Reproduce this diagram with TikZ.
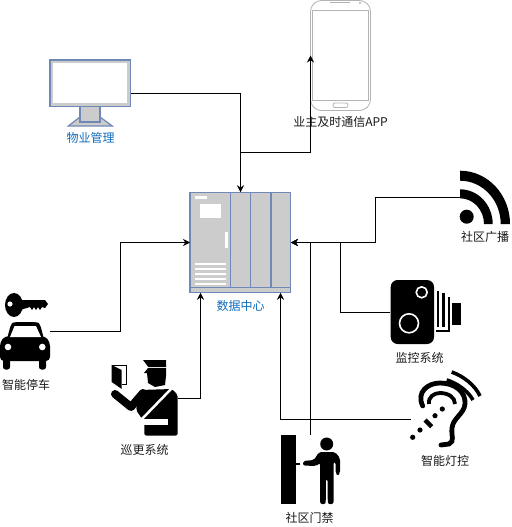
\documentclass[tikz,border=0pt]{standalone}
\usepackage{fontspec}
\usepackage{xcolor}
\usetikzlibrary{arrows.meta,positioning,calc}
\setmainfont{Noto Sans CJK SC}
\definecolor{Frame}{HTML}{6F88B5}
\definecolor{Panel}{HTML}{CCCCCC}
\definecolor{Caption}{HTML}{0F6CBD}
\definecolor{Shell}{HTML}{B3B3B3}
\begin{document}
\begin{tikzpicture}[
  x=1pt,y=-1pt,
  icon/.style={inner sep=0pt,outer sep=0pt,minimum width=#1},
  iconh/.style={minimum height=#1},
  tag/.style={inner sep=0pt,minimum height=14pt,align=center,font=\fontsize{12}{14}\selectfont,text=black!90},
  tagblue/.style={tag,text=Caption},
  arrow/.style={-{Stealth[length=7pt,width=7pt]},line width=0.8pt,draw=black},
  frame/.style={draw=Frame,line width=1.2pt,fill=Panel},
  stripe/.style={fill=white}
]
\useasboundingbox (0,0) rectangle (511,527);
\node[icon=81pt,iconh=66pt] (mgmt) at (90.5,93) {};
\node[icon=60pt,iconh=111pt] (app) at (340.5,55.5) {};
\node[icon=101pt,iconh=100.5pt] (hub) at (240.5,242.5) {};
\node[icon=50pt,iconh=78pt] (parking) at (25,331) {};
\node[icon=67pt,iconh=75pt] (patrol) at (144.5,398.5) {};
\node[icon=59pt,iconh=69pt] (gate) at (310.5,469.5) {};
\node[icon=70pt,iconh=60pt] (lamp) at (446,419) {};
\node[icon=71pt,iconh=64pt] (camera) at (425.5,312) {};
\node[icon=50pt,iconh=54pt] (radio) at (485,197) {};
\node[tagblue,below=5pt of mgmt] (mgmtText) {物业管理};
\node[tag,below=4pt of app] (appText) {业主及时通信APP};
\node[tagblue,below=6.3pt of hub] (hubText) {数据中心};
\node[tag,below=8pt of parking,xshift=1pt] (parkingText) {智能停车};
\node[tag,below=7pt of patrol] (patrolText) {巡更系统};
\node[tag,below=7pt of gate,xshift=-1pt] (gateText) {社区门禁};
\node[tag,below=5pt of lamp,xshift=-1pt] (lampText) {智能灯控};
\node[tag,below=7pt of camera,xshift=-6pt] (cameraText) {监控系统};
\node[tag,below=6pt of radio] (radioText) {社区广播};
\filldraw[frame] (68.3,126) -- (80,117) -- (100,117) -- (112.3,126) -- cycle;
\filldraw[frame] (80,106) rectangle (100,122);
\filldraw[frame] (50,60) rectangle (130.7,106.7);
\fill[white] (53,63) rectangle (127,103);
\filldraw[frame] (190,192.3) rectangle (290.7,292.7);
\draw[Frame,line width=1.2pt] (190,287.3) -- (290.7,287.3);
\foreach \xpos in {230.3,250.5,271}
  \draw[Frame,line width=1.2pt] (\xpos,192.3) -- (\xpos,287.3);
\fill[stripe] (195,196) rectangle (206.5,199);
\fill[stripe] (200,204) rectangle (220.5,218);
\fill[stripe] (224.5,232) rectangle (227.5,248);
\foreach \ypos in {263,268,273,278,283}
  \fill[stripe] (195,\ypos) rectangle (226,\ypos+1.5);
\draw[Shell,line width=0.8pt,rounded corners=11pt,fill=white] (310.5,0.5) rectangle (370.5,110.5);
\draw[Shell,line width=0.8pt] (312.5,10) rectangle (368.5,100);
\draw[Shell,line width=0.8pt,rounded corners=2pt] (333,103) rectangle (348,107.5);
\draw[Shell,line width=1.2pt] (330,2.5) -- (350,2.5);
\fill[Shell] (360,3) circle (1.2);
\fill[black] (460,170.7) arc[start angle=-90,end angle=0,x radius=50,y radius=53.3] -- (500.7,224) arc[start angle=0,end angle=-90,x radius=40.7,y radius=43.3] -- cycle;
\fill[black] (460,189.3) arc[start angle=-90,end angle=0,x radius=32.7,y radius=34.7] -- (484,224) arc[start angle=0,end angle=-90,x radius=24,y radius=25.7] -- cycle;
\fill[black] (466.7,216.7) circle (7);
\fill[black,rounded corners=7pt] (390.7,280) rectangle (434,344);
\draw[white,line width=1.6pt] (409,323.3) circle (9.5);
\draw[white,line width=1.6pt] (421.7,292.3) circle (5.5);
\fill[black] (436.7,291) rectangle (439.3,327);
\fill[black] (442.3,292.7) rectangle (445,327);
\fill[black] (448.3,297) rectangle (450,332);
\fill[black] (436,330) rectangle (450,332);
\fill[black] (451.7,303.3) rectangle (460.7,325);
\fill[black] (14,305) ellipse[x radius=9,y radius=12];
\fill[white] (10,304) circle (2.6);
\fill[black] (20,300) -- (45,300) -- (48,304) -- (45,308) -- (42,307) -- (40,310) -- (38,307) -- (36,310) -- (34,307) -- (32,310) -- (30,307) -- (20,310) -- cycle;
\fill[black,rounded corners=3pt] (7,339) -- (11,324) -- (14,322) -- (37,322) -- (40,324) -- (44,339) -- cycle;
\fill[black,rounded corners=4pt] (0,361) -- (0,342) -- (5,336) -- (45,336) -- (50,342) -- (50,361) -- cycle;
\fill[black,rounded corners=2.5pt] (3,355) rectangle (10,369.5);
\fill[black,rounded corners=2.5pt] (39,355) rectangle (46,369.5);
\fill[white] (14.5,326) -- (36,326) -- (41,337) -- (10,337) -- cycle;
\fill[white] (8,347) circle (3.3);
\fill[white] (42.3,347) circle (3.3);
\draw[black,line width=0.6pt] (112,365) -- (126,365) -- (126,384) -- (122,384);
\fill[black] (111.7,365) -- (121.7,370) -- (121.7,389) -- (111.7,382) -- cycle;
\fill[black] (143,360) -- (166,360) -- (166,367) -- (148.3,367) -- cycle;
\fill[black] (144,373) -- (148,368) -- (166,368) -- (166,376) -- (165,385) -- (155,387) -- (148,383) -- (147,373) -- cycle;
\draw[black,line width=8pt,line cap=round,line join=round] (115,394) -- (131,407) -- (143,393);
\fill[black,rounded corners=2pt] (140,390) -- (172,389) -- (177.7,395) -- (177.7,435.5) -- (144.3,435.5) -- (144.3,422) -- (136,410) -- cycle;
\draw[white,line width=2.5pt] (172,388) -- (141,420);
\fill[white] (141,419) rectangle (168,424.5);
\fill[black] (280.7,435) rectangle (295.7,504);
\fill[black] (296,463) rectangle (300,464.5);
\fill[black] (326.7,444) circle (6.5);
\fill[black,rounded corners=2pt] (303,461) -- (314,460) -- (319,452) -- (335,452) -- (340,458) -- (340,473) -- (338,476) -- (335.5,473) -- (335.5,462) -- (333.5,462) -- (333.5,504) -- (327.8,504) -- (327.5,479) -- (326,479) -- (325.7,504) -- (320.2,504) -- (320.2,463) -- (316,466) -- (303,465.5) -- cycle;
\draw[black,line width=4.8pt,line cap=round] (422.7,406) .. controls (416,392) and (428,383) .. (440,383) .. controls (455,383) and (466,392) .. (465,404) .. controls (464,414) and (453,418) .. (452,428) .. controls (451,436) and (455,441) .. (449,444) -- (441,445);
\draw[black,line width=3.8pt] (429,404) .. controls (428,397) and (434,393) .. (440,393) .. controls (448,393) and (455,397) .. (455,404);
\draw[black,line width=3.6pt] (451.7,372) .. controls (463,376) and (475,385) .. (480,396);
\draw[black,line width=3.6pt] (446.7,380) .. controls (457,383) and (468,391) .. (473,400);
\draw[black,line width=4.5pt] (425,420) -- (431.7,426.7);
\foreach \xpos/\ypos in {442.3/409,435/415.7,420/430,412.7/437.3}
  \fill[black] (\xpos,\ypos) circle (2.6);
\coordinate (hubLeft) at ($(hub.south)+(-40,0)$);
\coordinate (hubRight) at ($(hub.south)+(40,0)$);
\draw[arrow] (mgmt.east) -| (hub.north);
\draw[arrow] (hub.north) -- ++(0,-40) -| (app.west);
\draw[arrow] (parking.east) -- ++(70,0) |- (hub.west);
\draw[arrow] (patrol.east) -| (hubLeft);
\draw[arrow] (lamp.west) -| (hubRight);
\draw[arrow] (gate.north) |- (hub.east);
\draw[arrow] (camera.west) -- ++(-50,0) |- (hub.east);
\draw[arrow] (radio.west) -- ++(-85,0) |- (hub.east);
\end{tikzpicture}
\end{document}
